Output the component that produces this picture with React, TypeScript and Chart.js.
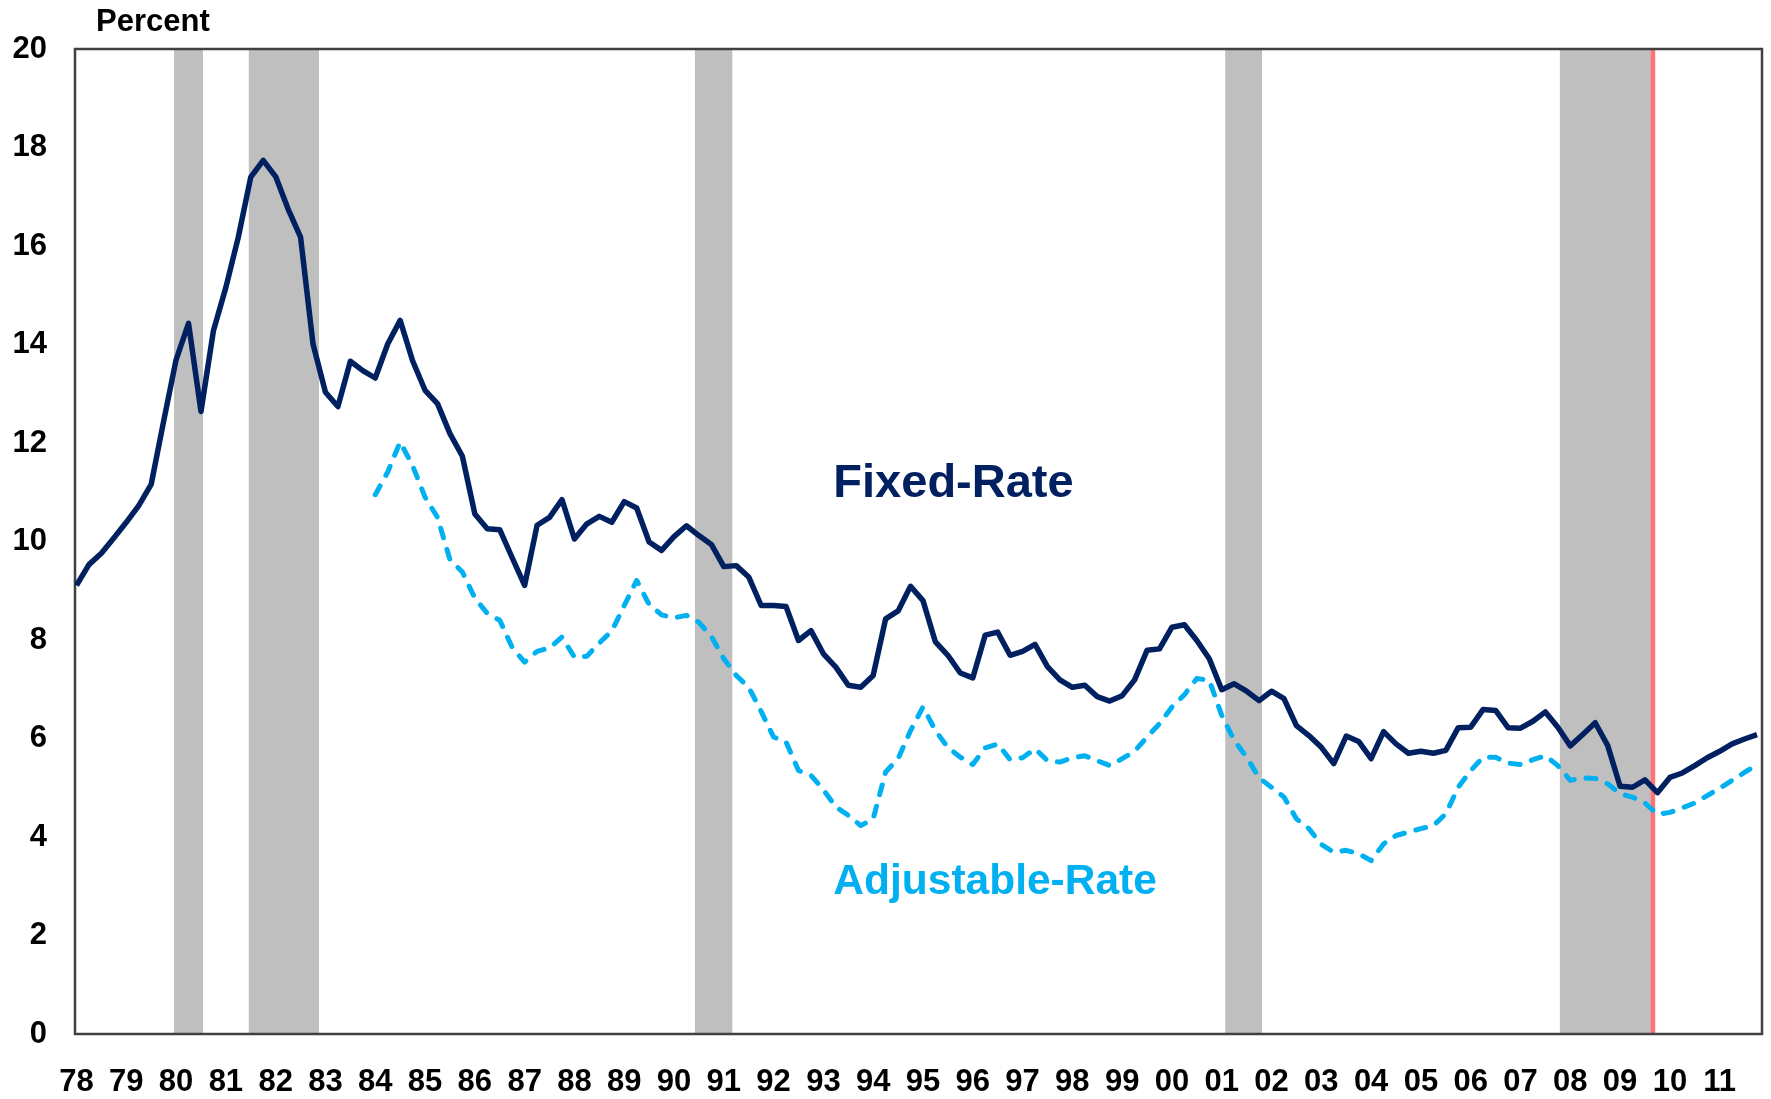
import React, { useEffect, useRef } from 'react';
import { Chart, registerables } from 'chart.js';

Chart.register(...registerables);

// Quarterly series, 1978Q1 - 2011Q4 (percent)
const fixedStartYear = 1978;
const fixedRate = [
  9.11, 9.53, 9.76, 10.07,
  10.39, 10.73, 11.16, 12.44,
  13.69, 14.43, 12.64, 14.28,
  15.16, 16.18, 17.40, 17.74,
  17.41, 16.75, 16.18, 14.01,
  13.03, 12.74, 13.66, 13.47,
  13.32, 14.01, 14.49, 13.67,
  13.07, 12.80, 12.19, 11.73,
  10.56, 10.26, 10.24, 9.67,
  9.11, 10.33, 10.49, 10.85,
  10.05, 10.36, 10.51, 10.39,
  10.81, 10.68, 9.99, 9.82,
  10.10, 10.32, 10.12, 9.94,
  9.49, 9.51, 9.28, 8.70,
  8.70, 8.68, 7.99, 8.19,
  7.72, 7.45, 7.08, 7.04,
  7.28, 8.43, 8.59, 9.09,
  8.80, 7.96, 7.69, 7.33,
  7.23, 8.10, 8.16, 7.69,
  7.77, 7.91, 7.46, 7.19,
  7.04, 7.08, 6.85, 6.76,
  6.87, 7.19, 7.79, 7.82,
  8.26, 8.31, 7.99, 7.62,
  6.99, 7.11, 6.96, 6.77,
  6.96, 6.81, 6.26, 6.06,
  5.82, 5.49, 6.05, 5.94,
  5.59, 6.14, 5.89, 5.70,
  5.74, 5.70, 5.76, 6.22,
  6.23, 6.59, 6.57, 6.22,
  6.21, 6.35, 6.54, 6.23,
  5.85, 6.08, 6.32, 5.86,
  5.03, 5.01, 5.16, 4.90,
  5.21, 5.30, 5.45, 5.61,
  5.74, 5.89, 5.99, 6.08,
];

// Quarterly series, 1984Q1 - 2011Q4 (percent)
const adjustableStartYear = 1984;
const adjustableRate = [
  10.95, 11.41, 12.02, 11.54,
  10.90, 10.49, 9.63, 9.38,
  8.85, 8.54, 8.40, 7.85,
  7.55, 7.77, 7.84, 8.06,
  7.65, 7.67, 7.94, 8.18,
  8.70, 9.21, 8.72, 8.51,
  8.45, 8.50, 8.36, 8.07,
  7.62, 7.28, 7.04, 6.55,
  6.03, 5.93, 5.35, 5.25,
  4.96, 4.61, 4.44, 4.23,
  4.37, 5.32, 5.59, 6.16,
  6.64, 6.16, 5.82, 5.62,
  5.47, 5.81, 5.89, 5.57,
  5.61, 5.79, 5.55, 5.52,
  5.61, 5.65, 5.55, 5.45,
  5.59, 5.74, 6.03, 6.30,
  6.64, 6.89, 7.22, 7.18,
  6.47, 5.96, 5.62, 5.20,
  5.01, 4.81, 4.37, 4.17,
  3.85, 3.69, 3.73, 3.66,
  3.52, 3.86, 4.03, 4.10,
  4.17, 4.23, 4.47, 5.01,
  5.35, 5.62, 5.62, 5.50,
  5.47, 5.57, 5.65, 5.45,
  5.15, 5.20, 5.19, 5.08,
  4.88, 4.81, 4.69, 4.46,
  4.50, 4.59, 4.69, 4.84,
  4.99, 5.15, 5.31, 5.47,
];

const yearTicks = [
  1978, 1979, 1980, 1981, 1982, 1983, 1984, 1985, 1986, 1987, 1988, 1989,
  1990, 1991, 1992, 1993, 1994, 1995, 1996, 1997, 1998, 1999, 2000, 2001,
  2002, 2003, 2004, 2005, 2006, 2007, 2008, 2009, 2010, 2011,
];
const yearLabels = [
  '78', '79', '80', '81', '82', '83', '84', '85', '86', '87', '88', '89',
  '90', '91', '92', '93', '94', '95', '96', '97', '98', '99', '00', '01',
  '02', '03', '04', '05', '06', '07', '08', '09', '10', '11',
];
const percentTicks = [0, 2, 4, 6, 8, 10, 12, 14, 16, 18, 20];

const recessionStarts = [1979.96, 1981.46, 1990.42, 2001.07, 2007.79];
const recessionEnds = [1980.54, 1982.87, 1991.17, 2001.81, 2009.62];
const forecastDivider = 2009.66;

const seriesNames = ['Fixed-Rate', 'Adjustable-Rate'];
const axisTitle = 'Percent';

const NAVY = '#002060';
const CYAN = '#00B0F0';
const W = 1771;
const H = 1099;
const FONT = "'Liberation Sans', Arial, sans-serif";

const decorPlugin = {
  id: 'decor',
  beforeDraw(chart: any) {
    const { ctx, chartArea: a, scales } = chart;
    const xs = scales.x;
    ctx.save();
    ctx.fillStyle = '#BFBFBF';
    recessionStarts.forEach((s, i) => {
      const x0 = xs.getPixelForValue(s);
      const x1 = xs.getPixelForValue(recessionEnds[i]);
      ctx.fillRect(x0, a.top, x1 - x0, a.bottom - a.top);
    });
    const fx = xs.getPixelForValue(forecastDivider);
    ctx.strokeStyle = '#FF7373';
    ctx.lineWidth = 4.5;
    ctx.beginPath();
    ctx.moveTo(fx, a.top);
    ctx.lineTo(fx, a.bottom);
    ctx.stroke();
    ctx.restore();
  },
  beforeDatasetsDraw(chart: any) {
    const { ctx, chartArea: a } = chart;
    ctx.save();
    ctx.strokeStyle = '#404040';
    ctx.lineWidth = 2.5;
    ctx.strokeRect(a.left, a.top, a.right - a.left, a.bottom - a.top);
    ctx.restore();
  },
  afterDatasetsDraw(chart: any) {
    const { ctx, scales } = chart;
    const xs = scales.x;
    const ys = scales.y;
    ctx.save();
    ctx.textAlign = 'left';
    ctx.textBaseline = 'alphabetic';
    ctx.fillStyle = '#000000';
    ctx.font = `bold 31px ${FONT}`;
    ctx.fillText(axisTitle, 96, 31);
    ctx.fillStyle = NAVY;
    ctx.font = `bold 47px ${FONT}`;
    ctx.fillText(seriesNames[0], xs.getPixelForValue(1993.2), ys.getPixelForValue(10.91));
    ctx.fillStyle = CYAN;
    ctx.font = `bold 42.5px ${FONT}`;
    ctx.fillText(seriesNames[1], xs.getPixelForValue(1993.2), ys.getPixelForValue(2.84));
    ctx.restore();
  },
};

export default function App() {
  const canvasRef = useRef<HTMLCanvasElement | null>(null);

  useEffect(() => {
    const canvas = canvasRef.current;
    if (!canvas) return;
    const fixedData = fixedRate.map((v, i) => ({ x: fixedStartYear + i * 0.25, y: v }));
    const adjData = adjustableRate.map((v, i) => ({ x: adjustableStartYear + i * 0.25, y: v }));
    const tickFont = { family: FONT, size: 31, weight: 'bold' as const };

    const chart = new Chart(canvas, {
      type: 'line',
      data: {
        datasets: [
          {
            label: seriesNames[0],
            data: fixedData,
            borderColor: NAVY,
            borderWidth: 5.5,
            pointRadius: 0,
            tension: 0,
            borderJoinStyle: 'round',
            fill: false,
          },
          {
            label: seriesNames[1],
            data: adjData,
            borderColor: CYAN,
            borderWidth: 5,
            borderDash: [10, 12],
            borderCapStyle: 'round',
            borderJoinStyle: 'round',
            pointRadius: 0,
            tension: 0,
            fill: false,
          },
        ],
      },
      options: {
        responsive: false,
        animation: false,
        devicePixelRatio: 1,
        parsing: false as any,
        layout: { padding: { top: 49, right: 9, left: 0, bottom: 0 } },
        plugins: {
          legend: { display: false },
          tooltip: { enabled: false },
          title: { display: false },
        },
        scales: {
          x: {
            type: 'linear',
            min: 1977.97,
            max: 2011.85,
            grid: { display: false, drawTicks: false },
            border: { display: false },
            afterBuildTicks: (scale: any) => {
              scale.ticks = yearTicks.map((v) => ({ value: v }));
            },
            afterFit: (scale: any) => {
              scale.height = 65;
            },
            ticks: {
              autoSkip: false,
              maxRotation: 0,
              minRotation: 0,
              padding: 30,
              color: '#000000',
              font: tickFont,
              callback: (value: any) => {
                const idx = yearTicks.indexOf(Number(value));
                return idx >= 0 ? yearLabels[idx] : '';
              },
            },
          },
          y: {
            type: 'linear',
            min: 0,
            max: 20,
            grid: { display: false, drawTicks: false },
            border: { display: false },
            afterBuildTicks: (scale: any) => {
              scale.ticks = percentTicks.map((v) => ({ value: v }));
            },
            afterFit: (scale: any) => {
              scale.width = 75;
            },
            ticks: {
              padding: 28,
              color: '#000000',
              font: tickFont,
              callback: (value: any) => String(value),
            },
          },
        },
      },
      plugins: [decorPlugin],
    });

    return () => chart.destroy();
  }, []);

  return (
    <div style={{ position: 'absolute', left: 0, top: 0, width: W, height: H, background: '#ffffff' }}>
      <canvas ref={canvasRef} width={W} height={H} style={{ display: 'block', width: W, height: H }} />
    </div>
  );
}
